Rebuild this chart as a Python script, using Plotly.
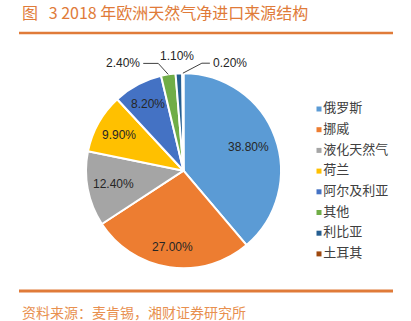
import math
import plotly.graph_objects as go

# ---------------- data ----------------
categories = ["俄罗斯", "挪威", "液化天然气", "荷兰", "阿尔及利亚", "其他", "利比亚", "土耳其"]
shares = [38.8, 27.0, 12.4, 9.9, 8.2, 2.4, 1.1, 0.2]
colors = ["#5B9BD5", "#ED7D31", "#A5A5A5", "#FFC000", "#4472C4", "#70AD47", "#255E91", "#9E480E"]
title_text = "图\u00a0\u00a0\u00a03\u00a02018\u00a0年欧洲天然气净进口来源结构"
source_text = "资料来源：麦肯锡，湘财证券研究所"

# ---------------- layout helpers ----------------
W, H = 411, 321
def px(x):
    return x / W
def py(y):
    return 1 - y / H

CX, CY, R = 183.5, 170.7, 97.5          # pie geometry (pixels)
ORANGE = "#E07B39"
NUMFONT = "Liberation Sans, Arial, sans-serif"
CJK = "Noto Sans CJK SC, sans-serif"

# label placement style: inside radius fraction, or outside offsets
inside_frac = {0: 0.71, 1: 0.79, 2: 0.73, 3: 0.755, 4: 0.78}
outside = {
    5: dict(elbow=(-10, -11), end=(-25, -11), text=(-26, -11), anchor="right"),
    6: dict(elbow=None, end=None, text=(-2, -17), anchor="center"),
    7: dict(elbow=(19, -10), end=(27, -10), text=(28, -10), anchor="left"),
}

fig = go.Figure()
fig.add_trace(go.Pie(
    values=shares, labels=categories, sort=False, direction="clockwise", rotation=0,
    marker=dict(colors=colors, line=dict(color="white", width=2)),
    textinfo="none", showlegend=False, hoverinfo="label+percent",
    domain=dict(x=[px(CX - R), px(CX + R)], y=[py(CY + R), py(CY - R)]),
))

# legend drawn as a scatter on its own hidden axes
fig.add_trace(go.Scatter(
    x=[0] * len(categories), y=list(range(len(categories))),
    mode="markers+text", text=categories, textposition="middle right",
    marker=dict(symbol="square", size=5, color=colors, line=dict(width=0)),
    textfont=dict(family=CJK, size=13, color="#404040"),
    cliponaxis=False, showlegend=False, hoverinfo="skip",
))

annotations = []
shapes = []
total = sum(shares)
cum = 0.0
for i, v in enumerate(shares):
    mid = (cum + v / 2) / total
    cum += v
    th = 2 * math.pi * mid
    label = f"{v:.2f}%"
    if i in inside_frac:
        f = inside_frac[i]
        x = CX + f * R * math.sin(th)
        y = CY - f * R * math.cos(th)
        annotations.append(dict(x=px(x), y=py(y), xref="paper", yref="paper", text=label,
                                showarrow=False, xanchor="center", yanchor="middle",
                                font=dict(family=NUMFONT, size=12, color="#262626")))
    else:
        o = outside[i]
        rx = CX + R * math.sin(th)
        ry = CY - R * math.cos(th)
        tx, ty = rx + o["text"][0], ry + o["text"][1]
        annotations.append(dict(x=px(tx), y=py(ty), xref="paper", yref="paper", text=label,
                                showarrow=False, xanchor=o["anchor"], yanchor="middle",
                                font=dict(family=NUMFONT, size=12, color="#262626")))
        if o["elbow"] is not None:
            ex, ey = rx + o["elbow"][0], ry + o["elbow"][1]
            qx, qy = rx + o["end"][0], ry + o["end"][1]
            shapes.append(dict(type="path", xref="paper", yref="paper",
                               path=f"M {px(rx)} {py(ry)} L {px(ex)} {py(ey)} L {px(qx)} {py(qy)}",
                               line=dict(color="#404040", width=1)))

# title, source and rules
annotations.append(dict(x=px(20), y=py(12), xref="paper", yref="paper", text=title_text,
                        showarrow=False, xanchor="left", yanchor="middle",
                        font=dict(family=CJK, size=16, color=ORANGE)))
annotations.append(dict(x=px(20), y=py(312), xref="paper", yref="paper", text=source_text,
                        showarrow=False, xanchor="left", yanchor="middle",
                        font=dict(family=CJK, size=14, color="#E8904F")))
shapes.append(dict(type="line", xref="paper", yref="paper", x0=px(19), x1=px(393),
                   y0=py(33), y1=py(33), line=dict(color=ORANGE, width=2.5)))
shapes.append(dict(type="line", xref="paper", yref="paper", x0=px(19), x1=px(393),
                   y0=py(291), y1=py(291), line=dict(color=ORANGE, width=3)))

LEG_TOP, LEG_STEP = 109, 20.7
n = len(categories)
fig.update_layout(
    width=W, height=H, margin=dict(l=0, r=0, t=0, b=0),
    paper_bgcolor="white", plot_bgcolor="rgba(0,0,0,0)",
    xaxis=dict(domain=[px(319), 1], range=[0, 1], visible=False, fixedrange=True),
    yaxis=dict(domain=[py(LEG_TOP + LEG_STEP * (n - 0.5)), py(LEG_TOP - LEG_STEP * 0.5)],
               range=[n - 0.5, -0.5], visible=False, fixedrange=True),
    annotations=annotations, shapes=shapes,
)

fig.write_html("out.html")
